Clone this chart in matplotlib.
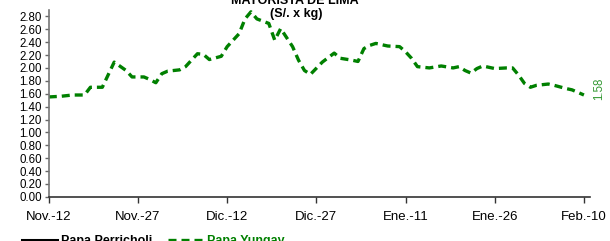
import matplotlib
matplotlib.use('Agg')
import matplotlib.pyplot as plt

plt.rcParams['font.family'] = ['Liberation Sans', 'DejaVu Sans']

# Days counted from Nov.-12, and the price (S/. x kg)
yungay_days = [0, 2, 4, 6, 7, 9, 11, 13, 14, 16, 17, 18, 19, 20, 22, 23, 25, 26, 27,
               29, 30, 32, 33, 34, 35, 37, 38, 39, 41, 42, 43, 44, 46, 48, 49, 51,
               52, 53, 54, 55, 57, 59, 60, 61, 62, 64, 66, 68, 69, 70, 71, 72, 73,
               75, 77, 78, 79, 80, 81, 82, 84, 85, 87, 88, 90]
yungay_values = [1.55, 1.56, 1.58, 1.58, 1.70, 1.70, 2.09, 1.96, 1.86, 1.86, 1.82, 1.77,
                 1.91, 1.95, 1.97, 2.02, 2.22, 2.21, 2.13, 2.18, 2.33, 2.53, 2.76, 2.87,
                 2.76, 2.69, 2.43, 2.61, 2.33, 2.12, 1.96, 1.90, 2.09, 2.23, 2.15, 2.12,
                 2.10, 2.30, 2.35, 2.38, 2.34, 2.33, 2.25, 2.15, 2.02, 2.00, 2.03, 2.00,
                 2.02, 1.96, 1.92, 1.99, 2.03, 1.99, 2.00, 2.00, 1.89, 1.76, 1.70, 1.73,
                 1.75, 1.73, 1.68, 1.66, 1.58]
perricholi_days = []
perricholi_values = []

tick_days = [0, 15, 30, 45, 60, 75, 90]
tick_labels = ['Nov.-12', 'Nov.-27', 'Dic.-12', 'Dic.-27', 'Ene.-11', 'Ene.-26', 'Feb.-10']
y_ticks = [i * 0.2 for i in range(15)]

green = '#008000'

fig = plt.figure(figsize=(6.1, 2.41), dpi=100)
ax = fig.add_axes([0.080, 0.183, 0.887, 0.776])

ax.plot(perricholi_days, perricholi_values, color='black', lw=2.2, label='Papa Perricholi')
ax.plot(yungay_days, yungay_values, color=green, lw=2.4,
        linestyle=(0, (2.4, 1.5)), label='Papa Yungay')

ax.set_xlim(0, 91)
ax.set_ylim(0, 2.9)
ax.set_yticks(y_ticks)
ax.set_yticklabels(['%.2f' % v for v in y_ticks], fontsize=8.3)
ax.set_xticks(tick_days)
ax.set_xticklabels(tick_labels, fontsize=9.5)
ax.tick_params(axis='y', length=3, width=1, color='#666666', pad=2)
ax.tick_params(axis='x', length=4, width=1, color='#333333', pad=6)

for side in ['top', 'right']:
    ax.spines[side].set_visible(False)
ax.spines['left'].set_color('#777777')
ax.spines['bottom'].set_color('#333333')
ax.spines['left'].set_linewidth(1.2)
ax.spines['bottom'].set_linewidth(1.2)

# last value label
ax.text(yungay_days[-1] + 2.6, yungay_values[-1] + 0.1, '%.2f' % yungay_values[-1],
        rotation=90, color='#339933', fontsize=8.3, ha='center', va='center')

fig.text(0.484, 0.985, 'MAYORISTA DE LIMA', ha='center', va='baseline',
         fontsize=9, fontweight='bold')
fig.text(0.485, 0.94, '(S/. x kg)', ha='center', va='center',
         fontsize=9, fontweight='bold')

leg = fig.legend(loc='center left', bbox_to_anchor=(0.018, 0.0), ncol=2, frameon=False,
                 handlelength=2.8, handletextpad=0.3, columnspacing=1.3,
                 prop={'weight': 'bold', 'size': 9})
leg.get_texts()[1].set_color(green)

fig.savefig('out.png', dpi=100)
plt.close(fig)
